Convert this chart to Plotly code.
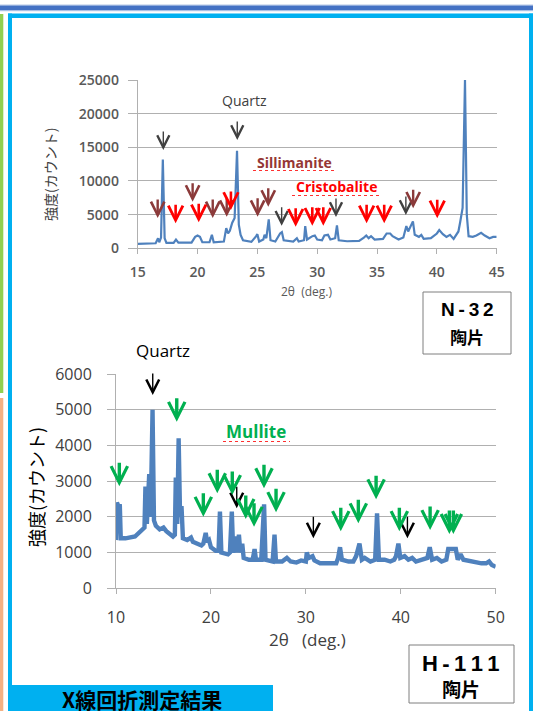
import plotly.graph_objects as go

# ---------------- data ----------------
# N-32 pottery shard XRD pattern
n32_2theta = [15.0, 16.0, 16.5, 16.7, 16.8, 16.95, 17.1, 17.25, 17.4, 18.0, 18.2, 18.4, 19.5, 19.8, 20.0, 20.2,
              20.4, 21.0, 21.2, 21.35, 22.2, 22.4, 22.55, 22.7, 22.9, 23.1, 23.3, 23.45, 23.6, 23.8, 24.5, 24.9,
              25.0, 25.15, 25.5, 25.6, 25.75, 25.95, 26.1, 26.5, 26.9, 27.05, 27.2, 28.0, 28.3, 28.45, 28.9, 29.0,
              29.15, 29.6, 29.8, 30.0, 30.4, 30.6, 30.9, 31.1, 31.5, 31.65, 31.8, 32.5, 33.5, 33.9, 34.1, 34.3,
              34.5, 34.8, 35.5, 35.8, 36.1, 36.3, 36.6, 36.8, 37.2, 37.45, 37.6, 37.9, 38.0, 38.15, 38.5, 38.7,
              38.9, 39.5, 40.0, 40.2, 40.5, 40.8, 41.1, 41.4, 41.8, 41.95, 42.15, 42.35, 42.5, 42.65, 43.0, 43.3,
              43.7, 44.0, 44.4, 44.7, 45.0]
n32_counts = [650, 680, 750, 1500, 900, 1600, 13200, 1500, 800, 800, 1300, 850, 850, 1700, 1900, 1700,
              900, 900, 2000, 900, 1000, 3000, 2200, 2600, 3800, 4500, 14500, 3500, 2000, 1200, 950, 1800,
              2100, 1000, 1300, 2000, 1500, 4300, 1200, 1000, 2200, 2400, 1200, 1000, 1500, 1000, 1200, 3300,
              1300, 1800, 1900, 1300, 1200, 1900, 2000, 1300, 1500, 3400, 1200, 1050, 1100, 1600, 1900, 1500,
              1800, 1300, 1400, 2200, 2200, 1800, 1500, 1300, 1600, 3300, 2500, 3800, 4000, 2000, 1700, 2000,
              1400, 1500, 2200, 2700, 2100, 1700, 2000, 1400, 2500, 3900, 6000, 25000, 5000, 1800, 1700, 1900,
              2300, 1900, 1500, 1700, 1700]

# H-111 pottery shard XRD pattern
h111_2theta = [10.0, 10.1, 10.25, 10.4, 10.5, 11.0, 12.0, 12.8, 13.0, 13.1, 13.25, 13.5, 13.65, 13.85, 14.0, 14.2,
               14.6, 15.0, 15.3, 16.0, 16.2, 16.3, 16.45, 16.6, 16.75, 16.9, 17.05, 17.5, 17.9, 18.1, 18.6, 19.0,
               19.2, 19.45, 19.6, 19.8, 20.0, 20.5, 20.8, 20.95, 21.1, 21.8, 22.0, 22.2, 22.35, 22.5, 22.6, 22.75,
               22.95, 23.1, 23.3, 23.45, 24.0, 24.4, 24.6, 24.75, 25.3, 25.6, 25.75, 26.5, 26.7, 26.85, 27.5, 28.0,
               28.4, 29.0, 29.5, 30.0, 30.1, 30.3, 30.7, 30.9, 31.5, 32.5, 33.2, 33.4, 33.6, 33.8, 34.5, 35.0,
               35.3, 35.65, 35.9, 36.2, 36.8, 37.3, 37.5, 37.7, 38.3, 38.9, 39.3, 39.5, 39.75, 39.95, 40.4, 40.8,
               41.2, 41.6, 42.3, 42.8, 43.05, 43.3, 43.8, 44.3, 44.8, 45.0, 45.5, 45.8, 46.0, 46.3, 46.6, 47.5,
               48.5, 49.0, 49.3, 49.6, 50.0]
h111_counts = [1350, 2400, 2300, 2350, 1400, 1400, 1450, 1650, 1700, 2850, 1800, 3200, 2000, 5000, 1900, 1750,
               1650, 1700, 1600, 1450, 1500, 3100, 1800, 4200, 2000, 2300, 1400, 1350, 1420, 1300, 1250, 1200,
               1250, 1550, 1300, 1350, 1150, 1050, 1050, 2150, 1000, 950, 1000, 2150, 1000, 1200, 1450, 1000,
               1500, 1000, 1250, 850, 800, 800, 1100, 800, 800, 2350, 800, 750, 1500, 750, 750, 850,
               750, 720, 780, 750, 1000, 850, 900, 780, 700, 700, 700, 850, 1150, 800, 750, 750,
               900, 1250, 800, 850, 750, 800, 2100, 800, 800, 750, 800, 900, 1250, 850, 900, 800,
               850, 750, 800, 850, 1150, 800, 850, 750, 800, 1100, 1100, 1100, 800, 950, 800, 750,
               700, 700, 750, 650, 600]

# peak markers (2theta, counts at arrow tip)
n32_quartz_x = [17.14, 23.32, 42.35, 27.03, 31.57, 37.41]
n32_quartz_y = [14600, 16080, 25740, 3360, 4650, 4950]
n32_sill_x = [16.67, 19.59, 21.27, 22.44, 25.02, 25.91, 38.02]
n32_sill_y = [4500, 6920, 4500, 4690, 4690, 6180, 5940]
n32_cris_x = [18.17, 20.10, 22.79, 28.20, 29.59, 30.51, 34.13, 35.60, 40.03]
n32_cris_y = [3710, 3860, 5690, 3210, 3360, 3360, 3710, 3710, 4450]

h111_quartz_x = [13.87, 22.72, 30.79, 40.70]
h111_quartz_y = [5410, 2240, 1400, 1400]
h111_mull_x = [10.35, 16.40, 19.20, 20.67, 22.25, 23.67, 24.54, 25.59, 26.86, 33.68, 35.53, 37.40, 39.85,
               43.09, 45.12, 45.54]
h111_mull_y = [2860, 4660, 2000, 2660, 2610, 1940, 1720, 2800, 2130, 1600, 1820, 2490, 1600,
               1630, 1520, 1520]

n32_yticks = [0, 5000, 10000, 15000, 20000, 25000]
n32_xticks = [15, 20, 25, 30, 35, 40, 45]
h111_yticks = [0, 1000, 2000, 3000, 4000, 5000, 6000]
h111_xticks = [10, 20, 30, 40, 50]

# ---------------- figure ----------------
W, H = 533, 711
def fx(p):
    return p / W
def fy(p):
    return 1 - p / H

LINE = "#4F81BD"
GRID = "#B0B0B0"
JP = "Noto Sans CJK JP"
LAT = "Open Sans"

fig = go.Figure()
fig.add_trace(go.Scatter(x=n32_2theta, y=n32_counts, mode="lines", line=dict(color=LINE, width=2.2),
                         xaxis="x", yaxis="y", showlegend=False, hoverinfo="skip"))
fig.add_trace(go.Scatter(x=h111_2theta, y=h111_counts, mode="lines", line=dict(color=LINE, width=4.4),
                         xaxis="x2", yaxis="y2", showlegend=False, hoverinfo="skip"))

common = dict(showline=True, linecolor=GRID, linewidth=1, ticks="outside", tickcolor=GRID,
              zeroline=False, automargin=False)
fig.update_layout(
    width=W, height=H, margin=dict(l=0, r=0, t=0, b=0, pad=0, autoexpand=False),
    paper_bgcolor="white", plot_bgcolor="white", showlegend=False,
    xaxis=dict(domain=[fx(137.7), fx(496.7)], range=[15, 45], tickvals=n32_xticks, anchor="y",
               ticklen=5, showgrid=False, ticklabelstandoff=6,
               tickfont=dict(family=LAT, size=14, color="#595959", weight=600), **common),
    yaxis=dict(domain=[fy(248.3), fy(80)], range=[0, 25000], tickvals=n32_yticks, tickformat="d", anchor="x",
               ticklen=9, showgrid=True, gridcolor=GRID, gridwidth=1, ticklabelstandoff=6,
               tickfont=dict(family=LAT, size=14, color="#595959", weight=600), **common),
    xaxis2=dict(domain=[fx(116), fx(495.7)], range=[10, 50], tickvals=h111_xticks, anchor="y2",
                ticklen=5, showgrid=False, ticklabelstandoff=9,
                tickfont=dict(family=LAT, size=16, color="#404040"), **common),
    yaxis2=dict(domain=[fy(588.3), fy(374)], range=[0, 6000], tickvals=h111_yticks, anchor="x2",
                ticklen=8, showgrid=True, gridcolor=GRID, gridwidth=1, ticklabelstandoff=12,
                tickfont=dict(family=LAT, size=16, color="#404040"), **common),
)

shapes = []
def rect(x0, y0, x1, y1, fill, line=None, lw=0):
    shapes.append(dict(type="rect", xref="paper", yref="paper", x0=fx(x0), x1=fx(x1), y0=fy(y1), y1=fy(y0),
                       fillcolor=fill, line=dict(color=line or fill, width=lw), layer="above"))

# frame decoration
rect(0, 4.5, W, 5.5, "#B4C7E7")
rect(0, 5.5, W, 10.5, "#4472C4")
rect(0, 10.5, W, 11.3, "#B4C7E7")
rect(0, 14, 3.3, 393, "#92D050")
rect(0, 398, 3.3, H, "#F4B183")
CYAN = "#00B0F0"
rect(8, 13.5, 12, H, CYAN)
rect(8, 13.5, W, 18, CYAN)
rect(529, 13.5, W, H, CYAN)
rect(8, 685, 273, H, CYAN)
# sample label boxes
rect(423, 292, 511, 354, "white", "#7F7F7F", 1)
rect(409, 645, 514, 703, "white", "#7F7F7F", 1)
# spell-check squiggles
for x0, x1, y in [(253, 335, 170.5), (292, 380, 195.5), (223, 290, 441.5)]:
    shapes.append(dict(type="line", xref="paper", yref="paper", x0=fx(x0), x1=fx(x1), y0=fy(y), y1=fy(y),
                       line=dict(color="#FF3030", width=1.2, dash="dot"), layer="above"))
fig.update_layout(shapes=shapes)

ann = []
def text(x, y, s, size, color="black", family=LAT, bold=False, angle=0, xanchor="center"):
    ann.append(dict(xref="paper", yref="paper", x=fx(x), y=fy(y), text=("<b>%s</b>" % s) if bold else s,
                    showarrow=False, xanchor=xanchor, yanchor="middle", textangle=angle,
                    font=dict(family=family, size=size, color=color)))

# chart 1 texts
text(306, 292, "2θ  (deg.)", 12, "#595959")
text(50, 175, "強度(カウント)", 14, "#404040", family=JP, angle=-90)
text(245, 101, "Quartz", 14, "#404040")
text(294, 162, "Sillimanite", 14, "#953735", bold=True)
text(336, 187, "Cristobalite", 14, "#FF0000", bold=True)
text(467, 309, "N\u2009-\u20093\u20092", 19, "black", family="Liberation Sans", bold=True)
text(467, 336, "陶片", 17, "black", family=JP, bold=True)
# chart 2 texts
text(307, 639, "2θ   (deg.)", 17, "#404040")
text(36, 487, "強度(カウント)", 18, "black", family=JP, angle=-90)
text(163, 350, "Quartz", 17, "black")
text(256, 431, "Mullite", 17, "#00B050", bold=True)
text(461, 663, "H\u2009-\u20091\u20091\u20091", 22, "black", family="Liberation Sans", bold=True)
text(461, 688, "陶片", 19, "black", family=JP, bold=True)
# title tab
text(142, 699, "X線回折測定結果", 21, "black", family=JP, bold=True)

def arrows(xs, ys, xa, ya, color, width, size, length):
    for x, y in zip(xs, ys):
        ann.append(dict(xref=xa, yref=ya, x=x, y=y, text="", showarrow=True, ax=0, ay=-length,
                        arrowhead=5, arrowsize=size, arrowwidth=width, arrowcolor=color, standoff=0))

arrows(n32_quartz_x, n32_quartz_y, "x", "y", "#404040", 1.4, 1.7, 20)
arrows(n32_sill_x, n32_sill_y, "x", "y", "#8B3A3A", 2.4, 1.1, 20)
arrows(n32_cris_x, n32_cris_y, "x", "y", "#FF0000", 2.6, 1.1, 20)
arrows(h111_quartz_x, h111_quartz_y, "x2", "y2", "#000000", 1.4, 1.8, 23)
arrows(h111_mull_x, h111_mull_y, "x2", "y2", "#00B050", 3.4, 0.95, 25)

fig.update_layout(annotations=ann)
fig.write_html("out.html", config={"displayModeBar": False},
               post_script="document.body.style.margin='0'; document.documentElement.style.overflow='hidden';")
